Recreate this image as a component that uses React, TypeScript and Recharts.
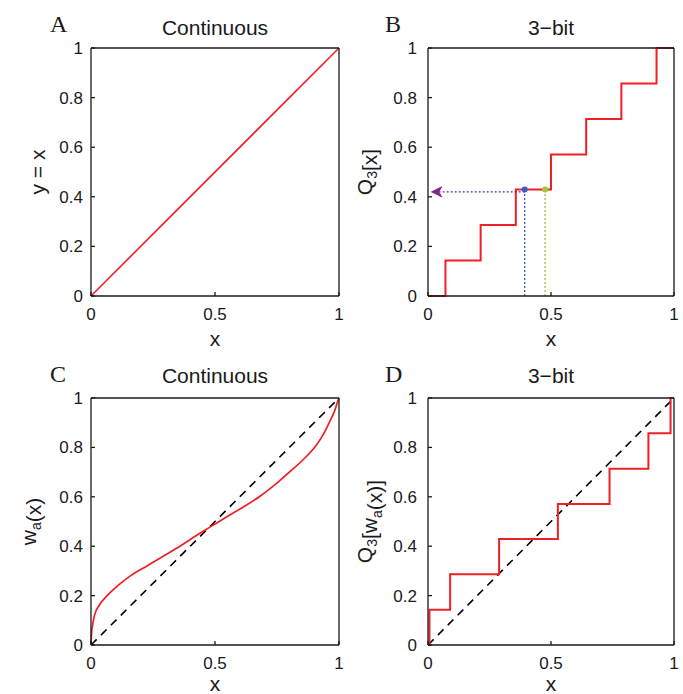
import React from 'react';
import { LineChart, Line, XAxis, YAxis, Label } from 'recharts';

const xTicks = [0, 0.5, 1];
const yTicks = [0, 0.2, 0.4, 0.6, 0.8, 1];

// identity line y = x
const identityX = [0, 1];
const identityY = [0, 1];

// 3-bit quantiser Q3[x]: edge where each level starts
const q3EdgesX = [0, 0.071, 0.214, 0.357, 0.5, 0.643, 0.786, 0.929, 1];
const q3Levels = [0, 0.143, 0.286, 0.429, 0.571, 0.714, 0.857, 1, 1];

// probes in panel B
const blueProbeX = [0.393, 0.393];
const greenProbeX = [0.476, 0.476];
const probeY = [0, 0.429];
const arrowX = [0.393, 0.015];
const arrowY = [0.42, 0.42];

// warped curve w_a(x)
const warpX = [0, 0.002, 0.006, 0.014, 0.034, 0.067, 0.108, 0.16, 0.229, 0.296, 0.363, 0.417, 0.464, 0.504, 0.546, 0.613, 0.68, 0.747, 0.801, 0.855, 0.909, 0.942, 0.962, 0.983, 0.996, 1];
const warpY = [0, 0.045, 0.078, 0.12, 0.162, 0.202, 0.24, 0.281, 0.322, 0.362, 0.403, 0.438, 0.468, 0.492, 0.518, 0.558, 0.601, 0.653, 0.701, 0.75, 0.81, 0.862, 0.903, 0.95, 0.99, 1];

// Q3[w_a(x)] step edges
const q3WarpEdgesX = [0, 0.006, 0.09, 0.289, 0.528, 0.738, 0.896, 0.986, 1];

const zip = (xs: number[], ys: number[]) => xs.map((x, i) => ({ x, y: ys[i] }));

const SANS = '"Liberation Sans", Arial, Helvetica, sans-serif';
const SERIF = '"Liberation Serif", "Times New Roman", serif';
const RED = '#ee2026';
const INK = '#1a1a1a';

const tickStyle = { fontSize: 17, fill: INK, fontFamily: SANS };
const blank = () => '';

const probeDot = (color: string) => (p: any) =>
  p.index === 1 ? (
    <circle key={`d${p.index}`} cx={p.cx} cy={p.cy} r={3} fill={color} stroke="none" />
  ) : (
    <g key={`d${p.index}`} />
  );

const arrowDot = (p: any) =>
  p.index === 1 ? (
    <path
      key="arrow"
      d={`M${p.cx},${p.cy} L${p.cx + 10},${p.cy - 5} L${p.cx + 7},${p.cy} L${p.cx + 10},${p.cy + 5} Z`}
      fill="#7b2a8c"
      stroke="#7b2a8c"
      strokeWidth={1}
    />
  ) : (
    <g key="a0" />
  );

interface PanelProps {
  left: number;
  top: number;
  width: number;
  height: number;
  margin: { top: number; right: number; bottom: number; left: number };
  xAxisHeight: number;
  xLabelDrop: number;
  yTickMargin: number;
  yLabelX: number;
  yLabel: React.ReactNode;
  children: React.ReactNode;
}

const Panel = ({ left, top, width, height, margin, xAxisHeight, xLabelDrop, yTickMargin, yLabelX, yLabel, children }: PanelProps) => (
  <div style={{ position: 'absolute', left, top, width, height }}>
    <LineChart width={width} height={height} margin={margin}>
      <XAxis
        dataKey="x"
        type="number"
        domain={[0, 1]}
        ticks={xTicks}
        interval={0}
        height={xAxisHeight}
        tickSize={-4}
        tickMargin={16}
        tick={tickStyle}
        stroke={INK}
        strokeWidth={1.3}
      >
        <Label
          content={({ viewBox }: any) => (
            <text
              x={viewBox.x + viewBox.width / 2}
              y={viewBox.y + xLabelDrop}
              textAnchor="middle"
              fontSize={21}
              fontFamily={SANS}
              fill={INK}
            >
              x
            </text>
          )}
        />
      </XAxis>
      <XAxis
        xAxisId="top"
        orientation="top"
        dataKey="x"
        type="number"
        domain={[0, 1]}
        ticks={xTicks}
        interval={0}
        height={1}
        tickSize={-4}
        tick={tickStyle}
        tickFormatter={blank}
        stroke={INK}
        strokeWidth={1.3}
      />
      <YAxis
        type="number"
        domain={[0, 1]}
        ticks={yTicks}
        interval={0}
        width={60}
        tickSize={-4}
        tickMargin={yTickMargin}
        tick={tickStyle}
        stroke={INK}
        strokeWidth={1.3}
      >
        <Label
          content={({ viewBox }: any) => {
            const cy = viewBox.y + viewBox.height / 2;
            return (
              <text
                x={yLabelX}
                y={cy}
                transform={`rotate(-90, ${yLabelX}, ${cy})`}
                textAnchor="middle"
                fontSize={21}
                fontFamily={SANS}
                fill={INK}
              >
                {yLabel}
              </text>
            );
          }}
        />
      </YAxis>
      <YAxis
        yAxisId="right"
        orientation="right"
        type="number"
        domain={[0, 1]}
        ticks={yTicks}
        interval={0}
        width={1}
        tickSize={-4}
        tick={tickStyle}
        tickFormatter={blank}
        stroke={INK}
        strokeWidth={1.3}
      />
      {children}
    </LineChart>
  </div>
);

const Sub = ({ children }: { children: string }) => (
  <>
    <tspan dy={5} fontSize={14}>{children}</tspan>
    <tspan dy={-5}></tspan>
  </>
);

export default function App() {
  return (
    <div style={{ position: 'absolute', left: 0, top: 0, width: 683, height: 694, background: '#fff', overflow: 'hidden' }}>
      {/* A */}
      <Panel
        left={0}
        top={0}
        width={352}
        height={360}
        margin={{ top: 47, right: 12, bottom: 0, left: 31 }}
        xAxisHeight={64}
        xLabelDrop={50}
        yTickMargin={12}
        yLabelX={45}
        yLabel="y = x"
      >
        <Line data={zip(identityX, identityY)} dataKey="y" stroke={RED} strokeWidth={1.6} dot={false} activeDot={false} isAnimationActive={false} />
      </Panel>

      {/* B */}
      <Panel
        left={341}
        top={0}
        width={342}
        height={360}
        margin={{ top: 47, right: 8, bottom: 0, left: 27 }}
        xAxisHeight={64}
        xLabelDrop={50}
        yTickMargin={15}
        yLabelX={31}
        yLabel={<>Q<Sub>3</Sub>[x]</>}
      >
        <Line data={zip(q3EdgesX, q3Levels)} dataKey="y" type="stepAfter" stroke={RED} strokeWidth={2} dot={false} activeDot={false} isAnimationActive={false} />
        <Line data={zip(blueProbeX, probeY)} dataKey="y" stroke="#3b5cc4" strokeWidth={1.3} strokeDasharray="2 2" dot={probeDot('#3b5cc4')} activeDot={false} isAnimationActive={false} />
        <Line data={zip(greenProbeX, probeY)} dataKey="y" stroke="#9cc93a" strokeWidth={1.3} strokeDasharray="2 2" dot={probeDot('#9cc93a')} activeDot={false} isAnimationActive={false} />
        <Line data={zip(arrowX, arrowY)} dataKey="y" stroke="#7b2a8c" strokeWidth={1.3} strokeDasharray="2 2" dot={arrowDot} activeDot={false} isAnimationActive={false} />
      </Panel>

      {/* C */}
      <Panel
        left={0}
        top={347}
        width={352}
        height={347}
        margin={{ top: 50, right: 12, bottom: 0, left: 31 }}
        xAxisHeight={49}
        xLabelDrop={46}
        yTickMargin={12}
        yLabelX={36}
        yLabel={<>w<Sub>a</Sub>(x)</>}
      >
        <Line data={zip(identityX, identityY)} dataKey="y" stroke="#000" strokeWidth={1.6} strokeDasharray="8 6" dot={false} activeDot={false} isAnimationActive={false} />
        <Line data={zip(warpX, warpY)} dataKey="y" type="monotone" stroke={RED} strokeWidth={1.7} dot={false} activeDot={false} isAnimationActive={false} />
      </Panel>

      {/* D */}
      <Panel
        left={341}
        top={347}
        width={342}
        height={347}
        margin={{ top: 50, right: 8, bottom: 0, left: 27 }}
        xAxisHeight={49}
        xLabelDrop={46}
        yTickMargin={15}
        yLabelX={31}
        yLabel={<>Q<Sub>3</Sub>[w<Sub>a</Sub>(x)]</>}
      >
        <Line data={zip(identityX, identityY)} dataKey="y" stroke="#000" strokeWidth={1.6} strokeDasharray="8 6" dot={false} activeDot={false} isAnimationActive={false} />
        <Line data={zip(q3WarpEdgesX, q3Levels)} dataKey="y" type="stepAfter" stroke={RED} strokeWidth={2} dot={false} activeDot={false} isAnimationActive={false} />
      </Panel>

      {/* panel letters and titles */}
      <svg width={683} height={694} style={{ position: 'absolute', left: 0, top: 0, pointerEvents: 'none' }}>
        <text x={50} y={32} fontSize={24} fontFamily={SERIF} fill={INK}>A</text>
        <text x={385} y={32} fontSize={24} fontFamily={SERIF} fill={INK}>B</text>
        <text x={50} y={382} fontSize={24} fontFamily={SERIF} fill={INK}>C</text>
        <text x={385} y={382} fontSize={24} fontFamily={SERIF} fill={INK}>D</text>
        <text x={215} y={35} textAnchor="middle" fontSize={21} fontFamily={SANS} fill={INK}>Continuous</text>
        <text x={551} y={35} textAnchor="middle" fontSize={21} fontFamily={SANS} fill={INK}>3−bit</text>
        <text x={215} y={383} textAnchor="middle" fontSize={21} fontFamily={SANS} fill={INK}>Continuous</text>
        <text x={551} y={383} textAnchor="middle" fontSize={21} fontFamily={SANS} fill={INK}>3−bit</text>
      </svg>
    </div>
  );
}
